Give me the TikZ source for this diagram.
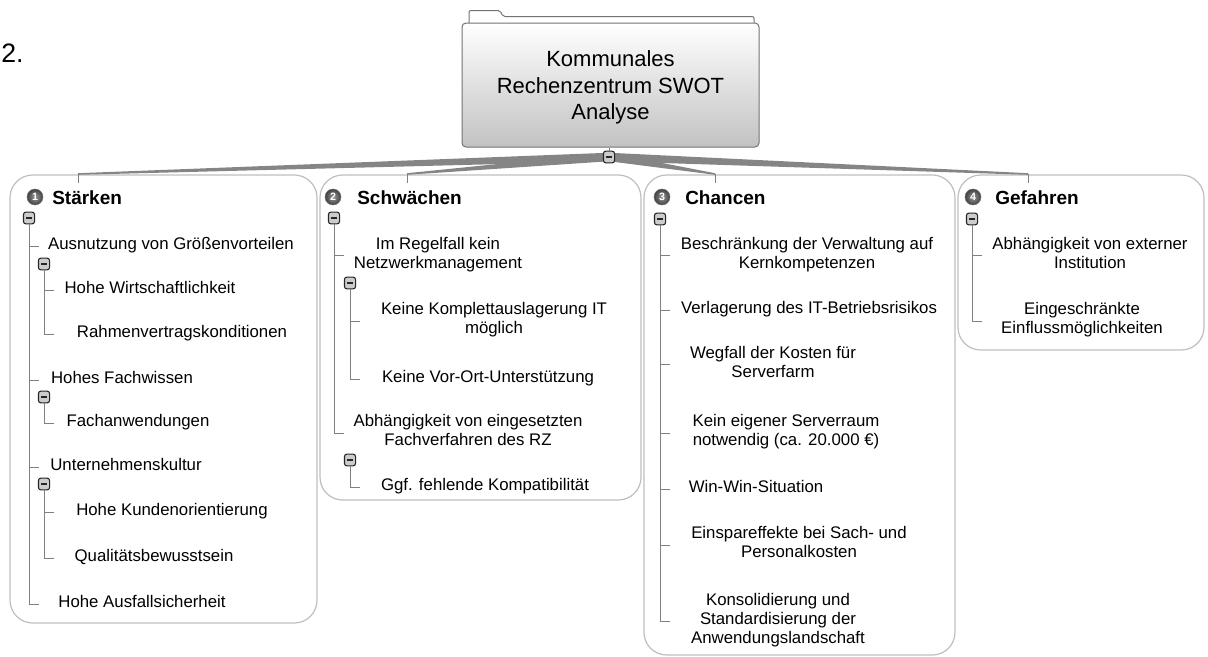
\documentclass[tikz,border=0pt]{standalone}
\usepackage{fontspec}
\setmainfont{Liberation Sans}
\begin{document}
\begin{tikzpicture}[x=0.75pt,y=-0.75pt,
  txt/.style={font=\fontsize{12.6pt}{14.25pt}\selectfont, align=center, inner sep=0pt,
    execute at begin node={\strut}, execute at end node={\strut}, yshift=-1.6pt},
  head/.style={font=\fontsize{14.25pt}{16pt}\selectfont\bfseries, anchor=base west, inner sep=0pt},
  icon/.style={circle, minimum size=12pt, inner sep=0pt, draw=black!55, line width=0.4pt,
    inner color=black!40, outer color=black!75,
    text=white, font=\fontsize{8pt}{8pt}\selectfont\bfseries},
  minus/.style={draw=black!85, rounded corners=1.8pt, fill=black!20, minimum width=8.3pt,
    minimum height=8.8pt, inner sep=0pt, line width=0.8pt,
    path picture={\draw[line width=1pt] ([xshift=-2.2pt]path picture bounding box.center)
      -- ([xshift=2.2pt]path picture bounding box.center);}},
  grp/.style={draw=black!25, line width=0.9pt, rounded corners=17pt, fill=white},
  tree/.style={draw=black!50, line width=0.75pt},
  wedge/.style={fill=black!48},
]
\path[use as bounding box] (0,0) rectangle (1208,657);

% page number
\node[anchor=base west, inner sep=0pt, font=\fontsize{20pt}{24pt}\selectfont] (pg) at (1,62) {2.};

% group frames
\draw[grp] (10,175) rectangle (317,623);
\draw[grp] (320,175) rectangle (641,500);
\draw[grp] (644,175) rectangle (955,655);
\draw[grp] (958,175) rectangle (1204,350);

% central topic (folder shape)
\draw[fill=white, draw=black!55, line width=0.75pt, rounded corners=1.5pt]
  (469,24) -- (469,10.5) -- (500,10.5) -- (503,16.5) -- (754,16.5) -- (754,24);
\node[draw=black!55, line width=0.75pt, rounded corners=3pt, top color=white, bottom color=black!24,
  minimum width=222.75pt, minimum height=93pt, inner sep=0pt] (root) at (610.5,85) {};
\node[align=center, inner sep=0pt, font=\fontsize{16.5pt}{19.8pt}\selectfont,
  execute at begin node={\strut}, execute at end node={\strut}] (title) at (610.5,89)
  {Kommunales\\Rechenzentrum SWOT\\Analyse};

% branch end points
\coordinate (s1) at (78,174);   \coordinate (s1b) at (78,183);
\coordinate (s2) at (407,174);  \coordinate (s2b) at (407,183);
\coordinate (s3) at (715,174);  \coordinate (s3b) at (715,183);
\coordinate (s4) at (1028,174); \coordinate (s4b) at (1028,183);
\coordinate (hc) at (609,157);

% tapered main branches
\foreach \e in {s1,s2,s3,s4}{
  \fill[wedge] ([yshift=3.2pt]hc) -- ([yshift=0.6pt]\e) -- ([yshift=-0.6pt]\e) -- ([yshift=-3.2pt]hc) -- cycle;
}
\draw[tree] (s1) -- (s1b);
\draw[tree] (s2) -- (s2b);
\draw[tree] (s3) -- (s3b);
\draw[tree] (s4) -- (s4b);
\node[minus] (hub) at (hc) {};
\draw[tree] (hub.north |- root.south) -- (hub.north);

% ---------- Stärken ----------
\node[icon] (iS) at (35,197) {1};
\node[head] (hS) at (52,204) {Stärken};
\node[minus] (mS) at (29,218) {};
\node[txt] (a1) at (171,244) {Ausnutzung von Größenvorteilen};
\node[minus] (ma1) at (44,264) {};
\node[txt] (a11) at (150,288) {Hohe Wirtschaftlichkeit};
\node[txt] (a12) at (182,332) {Rahmenvertragskonditionen};
\node[txt] (a2) at (122,378) {Hohes Fachwissen};
\node[minus] (ma2) at (44,397) {};
\node[txt] (a21) at (138,421) {Fachanwendungen};
\node[txt] (a3) at (126,465) {Unternehmenskultur};
\node[minus] (ma3) at (44,484) {};
\node[txt] (a31) at (172,510) {Hohe Kundenorientierung};
\node[txt] (a32) at (154,556) {Qualitätsbewusstsein};
\node[txt] (a4) at (142,602) {Hohe Ausfallsicherheit};

\draw[tree] (mS.south) -- (mS.south |- a4.west) -- ++(10,0);
\foreach \c in {a1,a2,a3}{ \draw[tree] (mS.south |- \c.west) -- ++(10,0); }
\draw[tree] (ma1.south) -- (ma1.south |- a12.west) -- ++(10,0);
\draw[tree] (ma1.south |- a11.west) -- ++(10,0);
\draw[tree] (ma2.south) -- (ma2.south |- a21.west) -- ++(10,0);
\draw[tree] (ma3.south) -- (ma3.south |- a32.west) -- ++(10,0);
\draw[tree] (ma3.south |- a31.west) -- ++(10,0);

% ---------- Schwächen ----------
\node[icon] (iW) at (333,197) {2};
\node[head] (hW) at (357,204) {Schwächen};
\node[minus] (mW) at (334,218) {};
\node[txt] (b1) at (438,253.5) {Im Regelfall kein\\Netzwerkmanagement};
\node[minus] (mb1) at (350,283) {};
\node[txt] (b11) at (494,319) {Keine Komplettauslagerung IT\\möglich};
\node[txt] (b12) at (488,377) {Keine Vor-Ort-Unterstützung};
\node[txt] (b2) at (468,431) {Abhängigkeit von eingesetzten\\Fachverfahren des RZ};
\node[minus] (mb2) at (350,460) {};
\node[txt] (b21) at (485,485) {Ggf. fehlende Kompatibilität};

\draw[tree] (mW.south) -- (mW.south |- b2.west) -- ++(10,0);
\draw[tree] (mW.south |- b1.west) -- ++(10,0);
\draw[tree] (mb1.south) -- (mb1.south |- b12.west) -- ++(10,0);
\draw[tree] (mb1.south |- b11.west) -- ++(10,0);
\draw[tree] (mb2.south) -- (mb2.south |- b21.west) -- ++(10,0);

% ---------- Chancen ----------
\node[icon] (iC) at (662,197) {3};
\node[head] (hC) at (685,204) {Chancen};
\node[minus] (mC) at (660,219) {};
\node[txt] (c1) at (807,253.5) {Beschränkung der Verwaltung auf\\Kernkompetenzen};
\node[txt] (c2) at (809,308) {Verlagerung des IT-Betriebsrisikos};
\node[txt] (c3) at (773,362.5) {Wegfall der Kosten für\\Serverfarm};
\node[txt] (c4) at (786,431) {Kein eigener Serverraum\\notwendig (ca. 20.000 €)};
\node[txt] (c5) at (756,487) {Win-Win-Situation};
\node[txt] (c6) at (799,543) {Einspareffekte bei Sach- und\\Personalkosten};
\node[txt] (c7) at (778,619) {Konsolidierung und\\Standardisierung der\\Anwendungslandschaft};

\draw[tree] (mC.south) -- (mC.south |- c7.west) -- ++(10,0);
\foreach \c in {c1,c2,c3,c4,c5,c6}{ \draw[tree] (mC.south |- \c.west) -- ++(10,0); }

% ---------- Gefahren ----------
\node[icon] (iG) at (973,197) {4};
\node[head] (hG) at (995,204) {Gefahren};
\node[minus] (mG) at (972,219) {};
\node[txt] (d1) at (1090,253.5) {Abhängigkeit von externer\\Institution};
\node[txt] (d2) at (1082,319) {Eingeschränkte\\Einflussmöglichkeiten};

\draw[tree] (mG.south) -- (mG.south |- d2.west) -- ++(10,0);
\draw[tree] (mG.south |- d1.west) -- ++(10,0);
\end{tikzpicture}
\end{document}
